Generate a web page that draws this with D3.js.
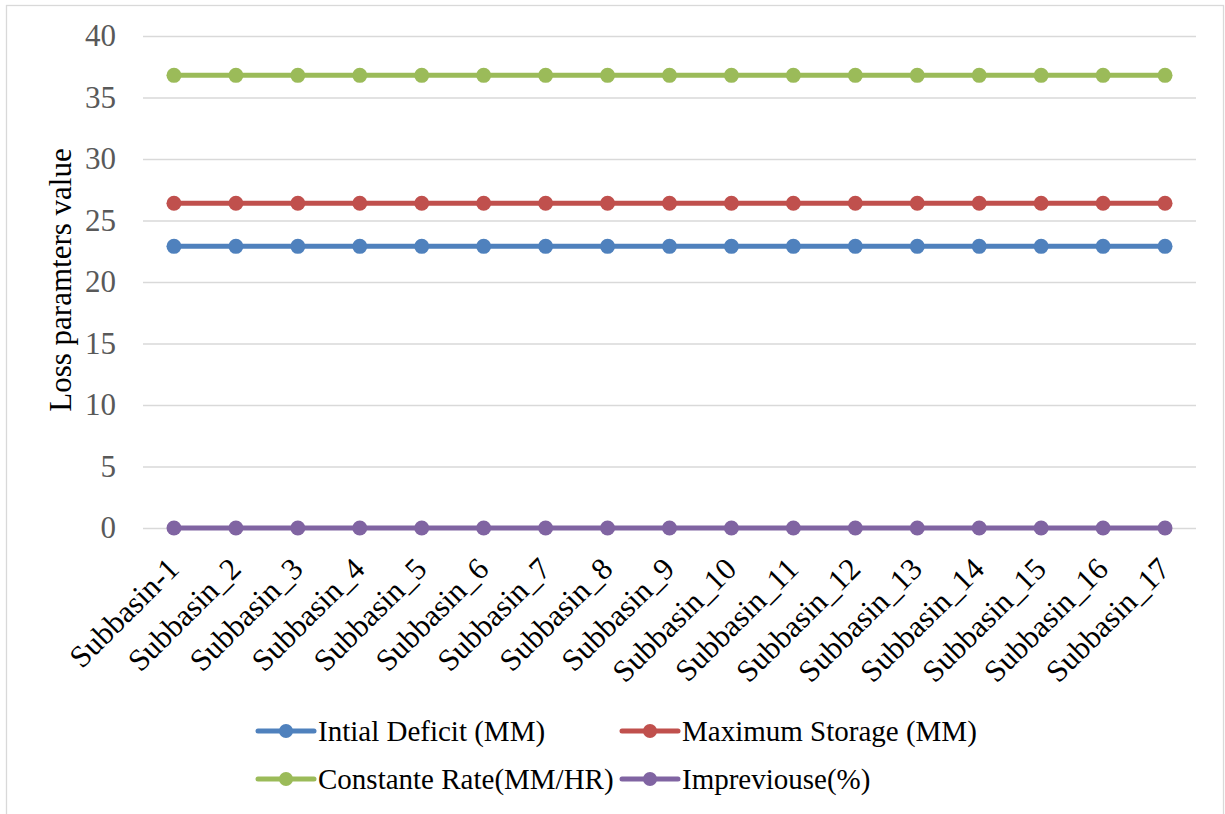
<!DOCTYPE html>
<html>
<head>
<meta charset="utf-8">
<script src="https://cdn.jsdelivr.net/npm/d3@7"></script>
<style>
  html, body { margin: 0; padding: 0; background: #fff; }
  svg text { font-family: 'Liberation Serif', 'Times New Roman', serif !important; }
</style>
</head>
<body>
<svg id="chart" width="1225" height="814" font-family="Liberation Serif"></svg>
<script>
// Loss parameters per subbasin
const categories = ["Subbasin-1", "Subbasin_2", "Subbasin_3", "Subbasin_4", "Subbasin_5", "Subbasin_6",
  "Subbasin_7", "Subbasin_8", "Subbasin_9", "Subbasin_10", "Subbasin_11", "Subbasin_12",
  "Subbasin_13", "Subbasin_14", "Subbasin_15", "Subbasin_16", "Subbasin_17"];
const initialDeficit = [22.9, 22.9, 22.9, 22.9, 22.9, 22.9, 22.9, 22.9, 22.9, 22.9, 22.9, 22.9, 22.9, 22.9, 22.9, 22.9, 22.9];
const maximumStorage = [26.4, 26.4, 26.4, 26.4, 26.4, 26.4, 26.4, 26.4, 26.4, 26.4, 26.4, 26.4, 26.4, 26.4, 26.4, 26.4, 26.4];
const constantRate = [36.8, 36.8, 36.8, 36.8, 36.8, 36.8, 36.8, 36.8, 36.8, 36.8, 36.8, 36.8, 36.8, 36.8, 36.8, 36.8, 36.8];
const impervious = [0, 0, 0, 0, 0, 0, 0, 0, 0, 0, 0, 0, 0, 0, 0, 0, 0];
const yTicks = [0, 5, 10, 15, 20, 25, 30, 35, 40];

const series = [
  { name: "Intial Deficit (MM)", values: initialDeficit, color: "#4f81bd" },
  { name: "Maximum Storage (MM)", values: maximumStorage, color: "#c0504d" },
  { name: "Constante Rate(MM/HR)", values: constantRate, color: "#9bbb59" },
  { name: "Impreviouse(%)", values: impervious, color: "#8064a2" }
];

const FONT = "'Liberation Serif', 'Times New Roman', serif";
const svg = d3.select("#chart");
const W = 1225, H = 814;
const plot = { left: 143, right: 1196, top: 36, bottom: 528 };

// Outer chart border
svg.append("rect")
  .attr("x", 6.5).attr("y", 5.5)
  .attr("width", W - 8).attr("height", H)
  .attr("fill", "#fff").attr("stroke", "#d9d9d9").attr("stroke-width", 1.3);

const x = d3.scaleBand().domain(categories).range([plot.left, plot.right]);
const y = d3.scaleLinear().domain([0, 40]).range([plot.bottom, plot.top]);

// Horizontal gridlines and y tick labels
const yAxis = d3.axisLeft(y).tickValues(yTicks).tickSize(-(plot.right - plot.left)).tickPadding(27);
const gy = svg.append("g").attr("transform", `translate(${plot.left},0)`).call(yAxis);
gy.attr("font-family", FONT);
gy.select(".domain").remove();
gy.selectAll(".tick line").attr("stroke", "#d9d9d9").attr("stroke-width", 1.3);
gy.selectAll(".tick text")
  .attr("fill", "#595959")
  .attr("font-family", FONT)
  .attr("font-size", 31);

// Y axis title
svg.append("text")
  .attr("transform", `translate(71,${(plot.top + plot.bottom) / 2 - 2}) rotate(-90)`)
  .attr("text-anchor", "middle")
  .attr("font-family", FONT)
  .attr("font-size", 31)
  .attr("fill", "#000")
  .text("Loss paramters value");

// X category labels, rotated
const xAxis = d3.axisBottom(x).tickSize(0).tickPadding(0);
const gx = svg.append("g").attr("transform", `translate(0,${plot.bottom})`).call(xAxis);
gx.attr("font-family", FONT);
gx.select(".domain").remove();
gx.selectAll(".tick text")
  .attr("text-anchor", "end")
  .attr("fill", "#000")
  .attr("font-family", FONT)
  .attr("font-size", 31)
  .attr("transform", "translate(-9,27) rotate(-45)")
  .attr("dy", "0.72em")
  .attr("y", 0);

// Series lines and markers
const line = d3.line()
  .x((d, i) => x(categories[i]) + x.bandwidth() / 2)
  .y(d => y(d));

const gs = svg.append("g");
series.forEach(s => {
  gs.append("path")
    .datum(s.values)
    .attr("d", line)
    .attr("fill", "none")
    .attr("stroke", s.color)
    .attr("stroke-width", 5)
    .attr("stroke-linejoin", "round");
  gs.selectAll(null)
    .data(s.values)
    .join("circle")
    .attr("cx", (d, i) => x(categories[i]) + x.bandwidth() / 2)
    .attr("cy", d => y(d))
    .attr("r", 7.5)
    .attr("fill", s.color);
});

// Legend: two rows, two columns
const legendPos = [
  { x: 258, y: 731 }, { x: 622, y: 731 },
  { x: 258, y: 779 }, { x: 622, y: 779 }
];
const lg = svg.append("g");
series.forEach((s, i) => {
  const p = legendPos[i];
  const g = lg.append("g").attr("transform", `translate(${p.x},${p.y})`);
  g.append("line")
    .attr("x1", 0).attr("x2", 56).attr("y1", 0).attr("y2", 0)
    .attr("stroke", s.color).attr("stroke-width", 5).attr("stroke-linecap", "round");
  g.append("circle").attr("cx", 28).attr("cy", 0).attr("r", 7).attr("fill", s.color);
  g.append("text")
    .attr("x", 60).attr("y", 0).attr("dy", "0.33em")
    .attr("font-family", FONT)
    .attr("font-size", 29)
    .attr("fill", "#000")
    .text(s.name);
});
</script>
</body>
</html>
